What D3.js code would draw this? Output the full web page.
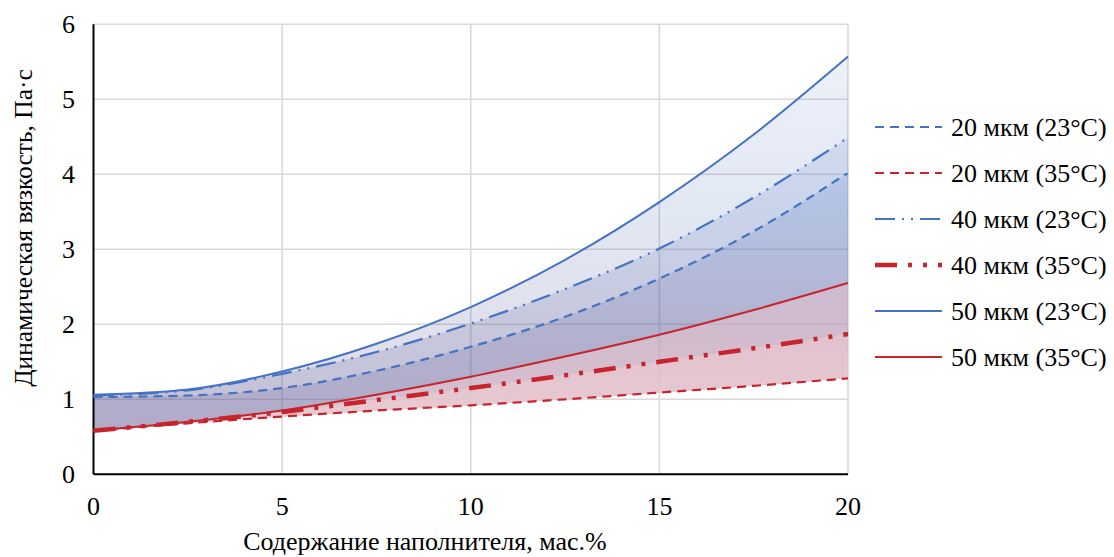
<!DOCTYPE html>
<html>
<head>
<meta charset="utf-8">
<script src="https://cdn.jsdelivr.net/npm/d3@7"></script>
</head>
<body style="margin:0">
<script>
const width = 1114, height = 557;
const margin = {left: 93.5, right: 266, top: 24.3, bottom: 82.7};

// filler content, wt.%
const xs = [0, 2.5, 5, 7.5, 10, 12.5, 15, 17.5, 20];
// dynamic viscosity, Pa·s
const v20_23 = [1.03, 1.05, 1.15, 1.38, 1.70, 2.10, 2.61, 3.24, 4.02];
const v20_35 = [0.58, 0.68, 0.77, 0.85, 0.92, 1.00, 1.09, 1.18, 1.28];
const v40_23 = [1.05, 1.12, 1.34, 1.63, 2.01, 2.47, 3.01, 3.69, 4.49];
const v40_35 = [0.58, 0.70, 0.83, 0.99, 1.15, 1.32, 1.50, 1.68, 1.87];
const v50_23 = [1.06, 1.13, 1.37, 1.74, 2.23, 2.86, 3.63, 4.53, 5.57];
const v50_35 = [0.58, 0.70, 0.85, 1.06, 1.30, 1.57, 1.86, 2.19, 2.55];

const xTicks = [0, 5, 10, 15, 20];
const yTicks = [0, 1, 2, 3, 4, 5, 6];
const xTitle = 'Содержание наполнителя, мас.%';
const yTitle = 'Динамическая вязкость, Па·с';

const blue = '#4472c4', red = '#c8242c';
const serif = '"Liberation Serif", monospace';

// legend order
const series = [
  {name: '20 мкм (23°C)', values: v20_23, color: blue, w: 2.2, dash: '9,6', hot: false},
  {name: '20 мкм (35°C)', values: v20_35, color: red, w: 2.2, dash: '9,6', hot: true},
  {name: '40 мкм (23°C)', values: v40_23, color: blue, w: 2.2, dash: '20,7,2,7,2,7', hot: false},
  {name: '40 мкм (35°C)', values: v40_35, color: red, w: 4.5, dash: '22,11,4,11,4,11', hot: true},
  {name: '50 мкм (23°C)', values: v50_23, color: blue, w: 2, dash: null, hot: false},
  {name: '50 мкм (35°C)', values: v50_35, color: red, w: 2, dash: null, hot: true}
];

const svg = d3.select('body').append('svg')
  .attr('width', width)
  .attr('height', height);

const x = d3.scaleLinear().domain([0, 20]).range([margin.left, width - margin.right]);
const y = d3.scaleLinear().domain([0, 6]).range([height - margin.bottom, margin.top]);

// gradients for the shaded bands
const defs = svg.append('defs');
const gBlue = defs.append('linearGradient')
  .attr('id', 'gBlue')
  .attr('gradientUnits', 'userSpaceOnUse')
  .attr('x1', 0).attr('x2', 0)
  .attr('y1', y(6)).attr('y2', y(0));
[[0, '#4472c4', 0.09], [0.4, '#3c63b7', 0.15], [0.7, '#54508f', 0.18], [1, '#5c4d8a', 0.2]]
  .forEach(s => gBlue.append('stop').attr('offset', s[0]).attr('stop-color', s[1]).attr('stop-opacity', s[2]));
const gRed = defs.append('linearGradient')
  .attr('id', 'gRed')
  .attr('gradientUnits', 'userSpaceOnUse')
  .attr('x1', 0).attr('x2', 0)
  .attr('y1', y(3)).attr('y2', y(0.5));
[[0, '#ecbcc8', 0.42], [1, '#f6d4d6', 0.58]]
  .forEach(s => gRed.append('stop').attr('offset', s[0]).attr('stop-color', s[1]).attr('stop-opacity', s[2]));

// gridlines
svg.append('g')
  .selectAll('line')
  .data(yTicks.slice(1))
  .enter().append('line')
  .attr('x1', x(0)).attr('x2', x(20))
  .attr('y1', d => y(d)).attr('y2', d => y(d))
  .attr('stroke', '#d9d9d9').attr('stroke-width', 1.6);
svg.append('g')
  .selectAll('line')
  .data(xTicks.slice(1))
  .enter().append('line')
  .attr('x1', d => x(d)).attr('x2', d => x(d))
  .attr('y1', y(0)).attr('y2', y(6))
  .attr('stroke', '#d9d9d9').attr('stroke-width', 1.6);

// shaded bands: each series down to the lowest curve
const lowest = v20_35;
const band = d3.area()
  .x((d, i) => x(xs[i]))
  .y0((d, i) => y(lowest[i]))
  .y1(d => y(d))
  .curve(d3.curveMonotoneX);

const blueSeries = series.filter(s => !s.hot);
const redSeries = series.filter(s => s.hot && s.values !== lowest);
svg.append('g').selectAll('path')
  .data(blueSeries)
  .enter().append('path')
  .attr('d', d => band(d.values))
  .attr('fill', 'url(#gBlue)');
svg.append('g').selectAll('path')
  .data(redSeries)
  .enter().append('path')
  .attr('d', d => band(d.values))
  .attr('fill', 'url(#gRed)');

// axes lines
svg.append('line')
  .attr('x1', x(0)).attr('x2', x(20))
  .attr('y1', y(0)).attr('y2', y(0))
  .attr('stroke', '#000').attr('stroke-width', 2);
svg.append('line')
  .attr('x1', x(0)).attr('x2', x(0))
  .attr('y1', y(0)).attr('y2', y(6))
  .attr('stroke', '#000').attr('stroke-width', 2);

// lines
const line = d3.line()
  .x((d, i) => x(xs[i]))
  .y(d => y(d))
  .curve(d3.curveMonotoneX);
const drawOrder = [series[4], series[2], series[0], series[5], series[3], series[1]];
svg.append('g').selectAll('path')
  .data(drawOrder)
  .enter().append('path')
  .attr('d', d => line(d.values))
  .attr('fill', 'none')
  .attr('stroke', d => d.color)
  .attr('stroke-width', d => d.w)
  .attr('stroke-dasharray', d => d.dash);

// tick labels
svg.append('g').selectAll('text')
  .data(xTicks)
  .enter().append('text')
  .attr('x', d => x(d))
  .attr('y', 515)
  .attr('text-anchor', 'middle')
  .attr('font-size', 26)
  .style('font-family', serif)
  .text(d => d);
svg.append('g').selectAll('text')
  .data(yTicks)
  .enter().append('text')
  .attr('x', 75)
  .attr('y', d => y(d) + 8.5)
  .attr('text-anchor', 'end')
  .attr('font-size', 26)
  .style('font-family', serif)
  .text(d => d);

// axis titles
svg.append('text')
  .attr('x', 425)
  .attr('y', 550)
  .attr('text-anchor', 'middle')
  .attr('font-size', 26)
  .style('font-family', serif)
  .text(xTitle);
svg.append('text')
  .attr('transform', `translate(32, 228) rotate(-90)`)
  .attr('text-anchor', 'middle')
  .attr('font-size', 25.5)
  .style('font-family', serif)
  .text(yTitle);

// legend
const legend = svg.append('g');
series.forEach(function(s, i) {
  const ly = 127 + i * 46;
  legend.append('line')
    .attr('x1', 875).attr('x2', 942)
    .attr('y1', ly).attr('y2', ly)
    .attr('stroke', s.color)
    .attr('stroke-width', s.w)
    .attr('stroke-dasharray', s.dash);
  legend.append('text')
    .attr('x', 951)
    .attr('y', ly + 8.5)
    .attr('font-size', 26)
    .style('font-family', serif)
    .text(s.name);
});
</script>
</body>
</html>
